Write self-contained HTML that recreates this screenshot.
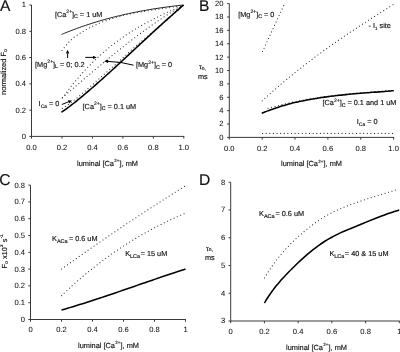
<!DOCTYPE html>
<html><head><meta charset="utf-8"><style>
html,body{margin:0;padding:0;background:#fff;}
svg{display:block;font-family:"Liberation Sans", sans-serif;will-change:transform;}
text{fill:#111;stroke:#111;stroke-width:0.15px;text-rendering:geometricPrecision;}
.tk{stroke-width:0.05px;}
</style></head><body>
<svg width="400" height="352" viewBox="0 0 400 352">
<rect width="400" height="352" fill="#fff"/>
<path d="M31.5,5.0V136.4H184.3" fill="none" stroke="#3a3a3a" stroke-width="1.0"/>
<path d="M31.5,136.4v2.2" stroke="#3a3a3a" stroke-width="1.0"/>
<path d="M61.96,136.4v2.2" stroke="#3a3a3a" stroke-width="1.0"/>
<path d="M92.42,136.4v2.2" stroke="#3a3a3a" stroke-width="1.0"/>
<path d="M122.88000000000001,136.4v2.2" stroke="#3a3a3a" stroke-width="1.0"/>
<path d="M153.34,136.4v2.2" stroke="#3a3a3a" stroke-width="1.0"/>
<path d="M183.8,136.4v2.2" stroke="#3a3a3a" stroke-width="1.0"/>
<path d="M31.5,136.4h-2.2" stroke="#3a3a3a" stroke-width="1.0"/>
<path d="M31.5,110.12h-2.2" stroke="#3a3a3a" stroke-width="1.0"/>
<path d="M31.5,83.84h-2.2" stroke="#3a3a3a" stroke-width="1.0"/>
<path d="M31.5,57.56h-2.2" stroke="#3a3a3a" stroke-width="1.0"/>
<path d="M31.5,31.28h-2.2" stroke="#3a3a3a" stroke-width="1.0"/>
<path d="M31.5,5.0h-2.2" stroke="#3a3a3a" stroke-width="1.0"/>
<text class="tk" x="31.5" y="149.8" text-anchor="middle" font-size="7.6">0.0</text>
<text class="tk" x="61.96" y="149.8" text-anchor="middle" font-size="7.6">0.2</text>
<text class="tk" x="92.42" y="149.8" text-anchor="middle" font-size="7.6">0.4</text>
<text class="tk" x="122.88000000000001" y="149.8" text-anchor="middle" font-size="7.6">0.6</text>
<text class="tk" x="153.34" y="149.8" text-anchor="middle" font-size="7.6">0.8</text>
<text class="tk" x="183.8" y="149.8" text-anchor="middle" font-size="7.6">1.0</text>
<text class="tk" x="26.0" y="138.80" text-anchor="end" font-size="7.6">0</text>
<text class="tk" x="26.0" y="112.52" text-anchor="end" font-size="7.6">0.2</text>
<text class="tk" x="26.0" y="86.24" text-anchor="end" font-size="7.6">0.4</text>
<text class="tk" x="26.0" y="59.96" text-anchor="end" font-size="7.6">0.6</text>
<text class="tk" x="26.0" y="33.68" text-anchor="end" font-size="7.6">0.8</text>
<text class="tk" x="26.0" y="7.40" text-anchor="end" font-size="7.6">1</text>
<text transform="translate(6.1,95) rotate(-90)" font-size="7.45">normalized F<tspan dy="1.1" font-size="5.2">o</tspan></text>
<text x="77" y="165.6" font-size="7.4">luminal [Ca<tspan dx="0.3" dy="-3.6" font-size="4.4">2+</tspan><tspan dx="0.2" dy="3.6">], mM</tspan></text>
<path d="M61.50,34.50C62.01,34.29 63.53,33.65 64.55,33.23C65.56,32.81 66.58,32.40 67.59,32.00C68.61,31.59 69.62,31.19 70.64,30.80C71.65,30.40 72.67,30.01 73.68,29.63C74.70,29.24 75.71,28.87 76.72,28.49C77.74,28.12 78.76,27.75 79.77,27.39C80.79,27.03 81.80,26.67 82.81,26.32C83.83,25.97 84.84,25.62 85.86,25.28C86.88,24.94 87.89,24.60 88.91,24.27C89.92,23.93 90.94,23.61 91.95,23.29C92.97,22.96 93.98,22.65 95.00,22.33C96.01,22.02 97.03,21.71 98.04,21.41C99.06,21.11 100.07,20.81 101.09,20.51C102.10,20.22 103.11,19.93 104.13,19.65C105.14,19.36 106.16,19.08 107.18,18.81C108.19,18.53 109.20,18.26 110.22,17.99C111.23,17.72 112.25,17.46 113.27,17.20C114.28,16.94 115.30,16.69 116.31,16.44C117.33,16.19 118.34,15.94 119.36,15.70C120.37,15.46 121.39,15.22 122.40,14.99C123.42,14.75 124.43,14.52 125.45,14.30C126.46,14.07 127.48,13.85 128.49,13.63C129.51,13.41 130.52,13.20 131.54,12.98C132.55,12.77 133.57,12.57 134.58,12.36C135.59,12.16 136.61,11.96 137.62,11.76C138.64,11.57 139.66,11.37 140.67,11.18C141.69,10.99 142.70,10.81 143.72,10.63C144.73,10.44 145.75,10.26 146.76,10.09C147.77,9.91 148.79,9.74 149.81,9.57C150.82,9.40 151.84,9.23 152.85,9.07C153.87,8.90 154.88,8.74 155.90,8.59C156.91,8.43 157.93,8.28 158.94,8.12C159.95,7.97 160.97,7.82 161.99,7.68C163.00,7.53 164.02,7.39 165.03,7.25C166.05,7.11 167.06,6.97 168.08,6.84C169.09,6.70 170.11,6.57 171.12,6.44C172.13,6.31 173.15,6.18 174.17,6.06C175.18,5.93 176.20,5.81 177.21,5.69C178.22,5.57 179.24,5.45 180.25,5.34C181.27,5.22 182.79,5.06 183.30,5.00" fill="none" stroke="#181818" stroke-width="0.95"/>
<path d="M62.00,50.51C62.51,49.85 64.02,47.82 65.03,46.56C66.04,45.30 67.05,44.05 68.06,42.93C69.08,41.81 70.09,40.78 71.10,39.84C72.11,38.91 73.12,38.10 74.13,37.31C75.14,36.53 76.15,35.83 77.16,35.14C78.17,34.44 79.18,33.79 80.19,33.14C81.21,32.50 82.22,31.88 83.23,31.28C84.24,30.68 85.25,30.10 86.26,29.53C87.27,28.97 88.28,28.43 89.29,27.91C90.30,27.38 91.31,26.87 92.33,26.38C93.34,25.89 94.35,25.42 95.36,24.96C96.37,24.50 97.38,24.05 98.39,23.62C99.40,23.19 100.41,22.78 101.42,22.38C102.43,21.97 103.44,21.58 104.46,21.21C105.47,20.83 106.48,20.47 107.49,20.12C108.50,19.76 109.51,19.43 110.52,19.10C111.53,18.77 112.54,18.45 113.55,18.15C114.56,17.84 115.57,17.54 116.59,17.26C117.60,16.97 118.61,16.70 119.62,16.43C120.63,16.16 121.64,15.91 122.65,15.66C123.66,15.41 124.67,15.17 125.68,14.93C126.69,14.70 127.70,14.48 128.72,14.26C129.73,14.04 130.74,13.83 131.75,13.63C132.76,13.42 133.77,13.22 134.78,13.03C135.79,12.84 136.80,12.65 137.81,12.47C138.82,12.29 139.83,12.11 140.84,11.94C141.86,11.76 142.87,11.60 143.88,11.43C144.89,11.27 145.90,11.10 146.91,10.95C147.92,10.79 148.93,10.63 149.94,10.48C150.95,10.32 151.96,10.17 152.98,10.02C153.99,9.87 155.00,9.72 156.01,9.57C157.02,9.42 158.03,9.27 159.04,9.13C160.05,8.98 161.06,8.83 162.07,8.68C163.08,8.53 164.09,8.38 165.11,8.23C166.12,8.08 167.13,7.93 168.14,7.77C169.15,7.62 170.16,7.46 171.17,7.30C172.18,7.14 173.19,6.98 174.20,6.81C175.21,6.65 176.22,6.48 177.24,6.30C178.25,6.13 179.26,5.95 180.27,5.76C181.28,5.58 182.79,5.29 183.30,5.20" fill="none" stroke="#2e2e2e" stroke-width="1.15" stroke-dasharray="0.01 3.6" stroke-linecap="round"/>
<path d="M62.40,97.96C62.90,97.27 64.42,95.19 65.42,93.84C66.43,92.49 67.44,91.16 68.44,89.85C69.45,88.54 70.46,87.26 71.47,85.99C72.47,84.73 73.48,83.49 74.49,82.26C75.50,81.04 76.50,79.84 77.51,78.66C78.52,77.47 79.53,76.31 80.53,75.17C81.54,74.03 82.55,72.91 83.56,71.80C84.56,70.70 85.57,69.62 86.58,68.55C87.59,67.48 88.59,66.44 89.60,65.41C90.61,64.38 91.62,63.37 92.62,62.37C93.63,61.38 94.64,60.40 95.65,59.44C96.66,58.48 97.66,57.54 98.67,56.61C99.68,55.68 100.68,54.77 101.69,53.88C102.70,52.98 103.71,52.10 104.72,51.24C105.72,50.38 106.73,49.53 107.74,48.69C108.74,47.86 109.75,47.04 110.76,46.24C111.77,45.43 112.77,44.64 113.78,43.86C114.79,43.09 115.80,42.32 116.81,41.57C117.81,40.82 118.82,40.09 119.83,39.36C120.83,38.63 121.84,37.92 122.85,37.22C123.86,36.52 124.86,35.83 125.87,35.16C126.88,34.48 127.89,33.81 128.90,33.16C129.90,32.50 130.91,31.86 131.92,31.23C132.92,30.59 133.93,29.97 134.94,29.36C135.95,28.74 136.96,28.14 137.96,27.55C138.97,26.95 139.98,26.37 140.98,25.79C141.99,25.21 143.00,24.65 144.01,24.09C145.01,23.53 146.02,22.98 147.03,22.43C148.04,21.89 149.05,21.35 150.05,20.83C151.06,20.30 152.07,19.78 153.07,19.26C154.08,18.75 155.09,18.24 156.10,17.73C157.10,17.23 158.11,16.74 159.12,16.24C160.13,15.75 161.13,15.27 162.14,14.79C163.15,14.31 164.16,13.83 165.16,13.36C166.17,12.89 167.18,12.42 168.19,11.96C169.19,11.50 170.20,11.04 171.21,10.58C172.22,10.12 173.22,9.67 174.23,9.22C175.24,8.77 176.25,8.33 177.25,7.88C178.26,7.44 179.27,6.99 180.28,6.55C181.28,6.11 182.80,5.45 183.30,5.23" fill="none" stroke="#2e2e2e" stroke-width="1.15" stroke-dasharray="0.01 3.6" stroke-linecap="round"/>
<path d="M62.40,97.63C62.90,97.20 64.42,95.91 65.42,95.05C66.43,94.18 67.44,93.32 68.44,92.45C69.45,91.59 70.46,90.73 71.47,89.86C72.47,89.00 73.48,88.14 74.49,87.27C75.50,86.41 76.50,85.55 77.51,84.68C78.52,83.82 79.53,82.96 80.53,82.10C81.54,81.24 82.55,80.38 83.56,79.52C84.56,78.66 85.57,77.80 86.58,76.94C87.59,76.08 88.59,75.23 89.60,74.37C90.61,73.52 91.62,72.66 92.62,71.81C93.63,70.96 94.64,70.11 95.65,69.26C96.66,68.41 97.66,67.57 98.67,66.72C99.68,65.88 100.68,65.03 101.69,64.19C102.70,63.35 103.71,62.52 104.72,61.68C105.72,60.84 106.73,60.01 107.74,59.18C108.74,58.35 109.75,57.52 110.76,56.70C111.77,55.87 112.77,55.05 113.78,54.23C114.79,53.41 115.80,52.60 116.81,51.78C117.81,50.97 118.82,50.16 119.83,49.36C120.83,48.55 121.84,47.75 122.85,46.95C123.86,46.15 124.86,45.36 125.87,44.57C126.88,43.78 127.89,42.99 128.90,42.21C129.90,41.42 130.91,40.65 131.92,39.87C132.92,39.10 133.93,38.33 134.94,37.56C135.95,36.80 136.96,36.04 137.96,35.28C138.97,34.53 139.98,33.78 140.98,33.03C141.99,32.28 143.00,31.54 144.01,30.81C145.01,30.07 146.02,29.34 147.03,28.62C148.04,27.89 149.05,27.17 150.05,26.46C151.06,25.75 152.07,25.04 153.07,24.34C154.08,23.63 155.09,22.94 156.10,22.25C157.10,21.56 158.11,20.87 159.12,20.20C160.13,19.52 161.13,18.85 162.14,18.18C163.15,17.52 164.16,16.86 165.16,16.21C166.17,15.56 167.18,14.91 168.19,14.27C169.19,13.63 170.20,13.00 171.21,12.38C172.22,11.76 173.22,11.14 174.23,10.53C175.24,9.92 176.25,9.32 177.25,8.73C178.26,8.13 179.27,7.55 180.28,6.97C181.28,6.39 182.80,5.54 183.30,5.25" fill="none" stroke="#2e2e2e" stroke-width="1.15" stroke-dasharray="0.01 3.6" stroke-linecap="round"/>
<path d="M62.40,108.47C62.90,108.15 64.42,107.20 65.42,106.53C66.43,105.86 67.44,105.16 68.44,104.44C69.45,103.72 70.46,102.98 71.47,102.22C72.47,101.46 73.48,100.68 74.49,99.88C75.50,99.09 76.50,98.27 77.51,97.45C78.52,96.63 79.53,95.79 80.53,94.95C81.54,94.10 82.55,93.24 83.56,92.38C84.56,91.52 85.57,90.65 86.58,89.78C87.59,88.91 88.59,88.03 89.60,87.15C90.61,86.27 91.62,85.38 92.62,84.50C93.63,83.61 94.64,82.72 95.65,81.83C96.66,80.94 97.66,80.05 98.67,79.16C99.68,78.27 100.68,77.38 101.69,76.49C102.70,75.60 103.71,74.71 104.72,73.83C105.72,72.94 106.73,72.06 107.74,71.17C108.74,70.29 109.75,69.41 110.76,68.53C111.77,67.65 112.77,66.78 113.78,65.90C114.79,65.01 115.80,64.13 116.81,63.24C117.81,62.35 118.82,61.46 119.83,60.55C120.83,59.65 121.84,58.74 122.85,57.82C123.86,56.91 124.86,55.99 125.87,55.07C126.88,54.15 127.89,53.23 128.90,52.31C129.90,51.40 130.91,50.49 131.92,49.59C132.92,48.69 133.93,47.79 134.94,46.91C135.95,46.03 136.96,45.17 137.96,44.31C138.97,43.44 139.98,42.59 140.98,41.74C141.99,40.89 143.00,40.04 144.01,39.19C145.01,38.35 146.02,37.51 147.03,36.67C148.04,35.83 149.05,34.99 150.05,34.15C151.06,33.31 152.07,32.48 153.07,31.64C154.08,30.80 155.09,29.96 156.10,29.12C157.10,28.28 158.11,27.44 159.12,26.60C160.13,25.75 161.13,24.91 162.14,24.06C163.15,23.21 164.16,22.36 165.16,21.50C166.17,20.64 167.18,19.78 168.19,18.91C169.19,18.04 170.20,17.16 171.21,16.28C172.22,15.40 173.22,14.51 174.23,13.61C175.24,12.71 176.25,11.81 177.25,10.89C178.26,9.98 179.27,9.06 180.28,8.12C181.28,7.19 182.80,5.76 183.30,5.29" fill="none" stroke="#2e2e2e" stroke-width="1.15" stroke-dasharray="0.01 3.6" stroke-linecap="round"/>
<path d="M61.50,112.30C62.01,111.94 63.53,110.87 64.55,110.13C65.57,109.40 66.58,108.66 67.60,107.90C68.62,107.14 69.63,106.38 70.65,105.60C71.67,104.82 72.68,104.04 73.70,103.24C74.72,102.44 75.73,101.64 76.75,100.82C77.77,100.01 78.78,99.18 79.80,98.35C80.82,97.52 81.83,96.68 82.85,95.84C83.87,94.99 84.88,94.14 85.90,93.28C86.92,92.42 87.93,91.55 88.95,90.68C89.97,89.81 90.98,88.93 92.00,88.04C93.02,87.16 94.03,86.27 95.05,85.38C96.07,84.49 97.08,83.59 98.10,82.69C99.12,81.79 100.13,80.89 101.15,79.98C102.17,79.07 103.18,78.16 104.20,77.25C105.22,76.34 106.23,75.42 107.25,74.50C108.27,73.58 109.28,72.66 110.30,71.73C111.32,70.81 112.33,69.88 113.35,68.95C114.37,68.02 115.38,67.09 116.40,66.16C117.42,65.22 118.43,64.29 119.45,63.35C120.47,62.41 121.48,61.48 122.50,60.54C123.52,59.60 124.53,58.65 125.55,57.71C126.57,56.77 127.58,55.83 128.60,54.88C129.62,53.94 130.63,53.00 131.65,52.05C132.67,51.11 133.68,50.16 134.70,49.22C135.72,48.27 136.73,47.33 137.75,46.38C138.77,45.44 139.78,44.50 140.80,43.55C141.82,42.61 142.83,41.66 143.85,40.72C144.87,39.78 145.88,38.84 146.90,37.90C147.92,36.96 148.93,36.02 149.95,35.08C150.97,34.15 151.98,33.21 153.00,32.28C154.02,31.34 155.03,30.41 156.05,29.48C157.07,28.55 158.08,27.62 159.10,26.69C160.12,25.77 161.13,24.85 162.15,23.93C163.17,23.01 164.18,22.09 165.20,21.17C166.22,20.26 167.23,19.35 168.25,18.44C169.27,17.53 170.28,16.63 171.30,15.72C172.32,14.82 173.33,13.93 174.35,13.03C175.37,12.14 176.38,11.25 177.40,10.36C178.42,9.48 179.43,8.60 180.45,7.72C181.47,6.84 182.99,5.54 183.50,5.10" fill="none" stroke="#000" stroke-width="1.55"/>
<text x="54.9" y="16.8" font-size="7.3">[Ca<tspan dx="0.1" dy="-3.8" font-size="5.0">2+</tspan><tspan dy="3.8">]</tspan><tspan dy="1.1" font-size="5.2">C</tspan><tspan dy="-1.1"> = 1 uM</tspan></text>
<text x="35.1" y="67.1" font-size="7.3">[Mg<tspan dx="0.1" dy="-3.8" font-size="5.0">2+</tspan><tspan dy="3.8">]</tspan><tspan dy="1.1" font-size="5.2">L</tspan><tspan dy="-1.1"> = 0; 0.2</tspan></text>
<text x="136" y="67.4" font-size="7.3">[Mg<tspan dx="0.1" dy="-3.8" font-size="5.0">2+</tspan><tspan dy="3.8">]</tspan><tspan dy="1.1" font-size="5.2">C</tspan><tspan dy="-1.1"> = 0</tspan></text>
<text x="82.6" y="108.7" font-size="7.3">[Ca<tspan dx="0.1" dy="-3.8" font-size="5.0">2+</tspan><tspan dy="3.8">]</tspan><tspan dy="1.1" font-size="5.2">C</tspan><tspan dy="-1.1"> = 0.1 uM</tspan></text>
<text x="38.6" y="106.4" font-size="7.3">I<tspan dy="1.9" font-size="5.0">Ca</tspan><tspan dx="1.9" dy="-1.9">= 0</tspan></text>
<path d="M67.6,58L67.60,53.60" stroke="#000" stroke-width="1"/><path d="M67.6,49.8L69.30,53.60L65.90,53.60Z" fill="#000"/>
<path d="M85.3,57.4L93.00,57.40" stroke="#000" stroke-width="1"/><path d="M96.8,57.4L93.00,59.10L93.00,55.70Z" fill="#000"/>
<path d="M133.5,65.2Q121,61.6 107.6,61.4" fill="none" stroke="#000" stroke-width="1"/>
<path d="M104.1,61.3L108.1,59.5L108.1,63.1Z" fill="#000"/>
<path d="M61.8,104.5L68.47,101.82" stroke="#000" stroke-width="1"/><path d="M72,100.4L69.11,103.39L67.84,100.24Z" fill="#000"/>
<path d="M229.3,3.6V137.4H394.1" fill="none" stroke="#3a3a3a" stroke-width="1.0"/>
<path d="M229.3,137.4v2.2" stroke="#3a3a3a" stroke-width="1.0"/>
<path d="M262.16,137.4v2.2" stroke="#3a3a3a" stroke-width="1.0"/>
<path d="M295.02,137.4v2.2" stroke="#3a3a3a" stroke-width="1.0"/>
<path d="M327.88,137.4v2.2" stroke="#3a3a3a" stroke-width="1.0"/>
<path d="M360.74,137.4v2.2" stroke="#3a3a3a" stroke-width="1.0"/>
<path d="M393.6,137.4v2.2" stroke="#3a3a3a" stroke-width="1.0"/>
<path d="M229.3,137.4h-2.2" stroke="#3a3a3a" stroke-width="1.0"/>
<path d="M229.3,124.02000000000001h-2.2" stroke="#3a3a3a" stroke-width="1.0"/>
<path d="M229.3,110.64h-2.2" stroke="#3a3a3a" stroke-width="1.0"/>
<path d="M229.3,97.26h-2.2" stroke="#3a3a3a" stroke-width="1.0"/>
<path d="M229.3,83.88h-2.2" stroke="#3a3a3a" stroke-width="1.0"/>
<path d="M229.3,70.5h-2.2" stroke="#3a3a3a" stroke-width="1.0"/>
<path d="M229.3,57.120000000000005h-2.2" stroke="#3a3a3a" stroke-width="1.0"/>
<path d="M229.3,43.739999999999995h-2.2" stroke="#3a3a3a" stroke-width="1.0"/>
<path d="M229.3,30.36h-2.2" stroke="#3a3a3a" stroke-width="1.0"/>
<path d="M229.3,16.980000000000004h-2.2" stroke="#3a3a3a" stroke-width="1.0"/>
<path d="M229.3,3.5999999999999943h-2.2" stroke="#3a3a3a" stroke-width="1.0"/>
<text class="tk" x="229.3" y="151.2" text-anchor="middle" font-size="7.6">0.0</text>
<text class="tk" x="262.16" y="151.2" text-anchor="middle" font-size="7.6">0.2</text>
<text class="tk" x="295.02" y="151.2" text-anchor="middle" font-size="7.6">0.4</text>
<text class="tk" x="327.88" y="151.2" text-anchor="middle" font-size="7.6">0.6</text>
<text class="tk" x="360.74" y="151.2" text-anchor="middle" font-size="7.6">0.8</text>
<text class="tk" x="393.6" y="151.2" text-anchor="middle" font-size="7.6">1.0</text>
<text class="tk" x="223.4" y="139.80" text-anchor="end" font-size="7.6">0</text>
<text class="tk" x="223.4" y="126.42" text-anchor="end" font-size="7.6">2</text>
<text class="tk" x="223.4" y="113.04" text-anchor="end" font-size="7.6">4</text>
<text class="tk" x="223.4" y="99.66" text-anchor="end" font-size="7.6">6</text>
<text class="tk" x="223.4" y="86.28" text-anchor="end" font-size="7.6">8</text>
<text class="tk" x="223.4" y="72.90" text-anchor="end" font-size="7.6">10</text>
<text class="tk" x="223.4" y="59.52" text-anchor="end" font-size="7.6">12</text>
<text class="tk" x="223.4" y="46.14" text-anchor="end" font-size="7.6">14</text>
<text class="tk" x="223.4" y="32.76" text-anchor="end" font-size="7.6">16</text>
<text class="tk" x="223.4" y="19.38" text-anchor="end" font-size="7.6">18</text>
<text class="tk" x="223.4" y="6.00" text-anchor="end" font-size="7.6">20</text>
<text x="199.0" y="69.3" font-size="6.8">τ<tspan dy="0.7" font-size="5">o,</tspan></text>
<text x="198" y="78.7" font-size="7.3">ms</text>
<text x="281" y="166.4" font-size="7.4">luminal [Ca<tspan dx="0.3" dy="-3.6" font-size="4.4">2+</tspan><tspan dx="0.2" dy="3.6">], mM</tspan></text>
<path d="M262.50,51.60C262.78,50.99 263.62,49.17 264.18,47.96C264.74,46.75 265.29,45.54 265.85,44.32C266.41,43.11 266.97,41.90 267.53,40.68C268.09,39.47 268.65,38.26 269.21,37.05C269.77,35.83 270.33,34.62 270.88,33.41C271.44,32.19 272.00,30.98 272.56,29.77C273.12,28.56 273.68,27.34 274.24,26.13C274.80,24.92 275.36,23.71 275.92,22.49C276.47,21.28 277.03,20.07 277.59,18.85C278.15,17.64 278.71,16.43 279.27,15.22C279.83,14.00 280.39,12.79 280.95,11.58C281.51,10.36 282.06,9.15 282.62,7.94C283.18,6.73 284.02,4.91 284.30,4.30" fill="none" stroke="#2e2e2e" stroke-width="1.15" stroke-dasharray="0.01 3.6" stroke-linecap="round"/>
<path d="M262.20,100.86C262.71,100.39 264.24,98.99 265.26,98.06C266.27,97.14 267.29,96.22 268.31,95.30C269.33,94.39 270.35,93.48 271.37,92.58C272.39,91.67 273.40,90.78 274.42,89.89C275.44,89.00 276.46,88.11 277.48,87.23C278.50,86.35 279.52,85.48 280.53,84.61C281.55,83.74 282.57,82.88 283.59,82.02C284.61,81.17 285.63,80.32 286.65,79.47C287.67,78.62 288.68,77.78 289.70,76.94C290.72,76.11 291.74,75.28 292.76,74.45C293.78,73.63 294.80,72.80 295.81,71.99C296.83,71.17 297.85,70.36 298.87,69.55C299.89,68.75 300.91,67.95 301.93,67.15C302.94,66.35 303.96,65.56 304.98,64.77C306.00,63.98 307.02,63.20 308.04,62.42C309.06,61.64 310.07,60.87 311.09,60.10C312.11,59.32 313.13,58.56 314.15,57.80C315.17,57.03 316.19,56.28 317.20,55.52C318.22,54.77 319.24,54.02 320.26,53.27C321.28,52.52 322.30,51.78 323.32,51.04C324.33,50.30 325.35,49.57 326.37,48.84C327.39,48.11 328.41,47.38 329.43,46.66C330.45,45.93 331.47,45.21 332.48,44.49C333.50,43.77 334.52,43.06 335.54,42.35C336.56,41.64 337.58,40.93 338.60,40.23C339.61,39.52 340.63,38.82 341.65,38.12C342.67,37.42 343.69,36.73 344.71,36.04C345.73,35.34 346.74,34.65 347.76,33.97C348.78,33.28 349.80,32.59 350.82,31.91C351.84,31.23 352.86,30.55 353.87,29.87C354.89,29.20 355.91,28.52 356.93,27.85C357.95,27.18 358.97,26.51 359.99,25.84C361.00,25.17 362.02,24.51 363.04,23.85C364.06,23.18 365.08,22.52 366.10,21.86C367.12,21.20 368.13,20.55 369.15,19.89C370.17,19.23 371.19,18.58 372.21,17.93C373.23,17.28 374.25,16.63 375.27,15.98C376.28,15.33 377.30,14.68 378.32,14.04C379.34,13.39 380.36,12.75 381.38,12.10C382.40,11.46 383.41,10.82 384.43,10.18C385.45,9.54 386.47,8.90 387.49,8.26C388.51,7.62 389.53,6.99 390.54,6.35C391.56,5.71 393.09,4.76 393.60,4.44" fill="none" stroke="#2e2e2e" stroke-width="1.15" stroke-dasharray="0.01 3.6" stroke-linecap="round"/>
<path d="M268.00,108.30C269.61,107.86 274.45,106.49 277.67,105.66C280.90,104.83 284.12,104.05 287.35,103.32C290.57,102.59 293.79,101.90 297.02,101.25C300.24,100.61 303.47,100.01 306.69,99.44C309.92,98.87 313.14,98.35 316.37,97.85C319.59,97.35 322.81,96.90 326.04,96.46C329.26,96.03 332.49,95.63 335.71,95.25C338.94,94.88 342.16,94.53 345.38,94.20C348.61,93.87 351.83,93.56 355.06,93.27C358.28,92.98 361.51,92.71 364.73,92.46C367.96,92.20 371.18,91.96 374.40,91.72C377.63,91.48 380.85,91.26 384.08,91.04C387.30,90.82 392.14,90.51 393.75,90.40" fill="none" stroke="#2e2e2e" stroke-width="1.15" stroke-dasharray="0.01 3.6" stroke-linecap="round"/>
<path d="M261.75,113.28C262.25,113.07 263.75,112.44 264.75,112.03C265.75,111.63 266.75,111.23 267.75,110.85C268.75,110.46 269.75,110.09 270.75,109.72C271.75,109.36 272.75,109.00 273.75,108.66C274.75,108.31 275.75,107.97 276.75,107.65C277.75,107.32 278.75,107.00 279.75,106.69C280.75,106.38 281.75,106.07 282.75,105.78C283.75,105.48 284.75,105.20 285.75,104.92C286.75,104.64 287.75,104.37 288.75,104.11C289.75,103.84 290.75,103.58 291.75,103.33C292.75,103.08 293.75,102.84 294.75,102.61C295.75,102.37 296.75,102.14 297.75,101.92C298.75,101.69 299.75,101.47 300.75,101.26C301.75,101.05 302.75,100.84 303.75,100.64C304.75,100.44 305.75,100.25 306.75,100.06C307.75,99.87 308.75,99.68 309.75,99.50C310.75,99.32 311.75,99.14 312.75,98.97C313.75,98.80 314.75,98.63 315.75,98.47C316.75,98.30 317.75,98.15 318.75,97.99C319.75,97.84 320.75,97.69 321.75,97.54C322.75,97.39 323.75,97.25 324.75,97.11C325.75,96.97 326.75,96.83 327.75,96.70C328.75,96.57 329.75,96.44 330.75,96.31C331.75,96.19 332.75,96.07 333.75,95.95C334.75,95.83 335.75,95.71 336.75,95.60C337.75,95.48 338.75,95.37 339.75,95.26C340.75,95.16 341.75,95.05 342.75,94.95C343.75,94.84 344.75,94.74 345.75,94.64C346.75,94.54 347.75,94.45 348.75,94.35C349.75,94.26 350.75,94.17 351.75,94.07C352.75,93.98 353.75,93.89 354.75,93.81C355.75,93.72 356.75,93.63 357.75,93.55C358.75,93.46 359.75,93.38 360.75,93.30C361.75,93.21 362.75,93.13 363.75,93.05C364.75,92.97 365.75,92.89 366.75,92.81C367.75,92.73 368.75,92.66 369.75,92.58C370.75,92.50 371.75,92.42 372.75,92.35C373.75,92.27 374.75,92.19 375.75,92.11C376.75,92.04 377.75,91.96 378.75,91.88C379.75,91.81 380.75,91.73 381.75,91.65C382.75,91.58 383.75,91.50 384.75,91.42C385.75,91.34 386.75,91.26 387.75,91.18C388.75,91.10 389.75,91.02 390.75,90.94C391.75,90.86 393.25,90.74 393.75,90.69" fill="none" stroke="#000" stroke-width="1.55"/>
<path d="M262.6,133.4H393.6" stroke="#2e2e2e" stroke-width="1.15" stroke-dasharray="0.01 3.6" stroke-linecap="round"/>
<text x="238.2" y="17.3" font-size="7.3">[Mg<tspan dx="0.1" dy="-3.8" font-size="5.0">2+</tspan><tspan dy="3.8">]</tspan><tspan dy="1.1" font-size="5.2">C</tspan><tspan dy="-1.1"> = 0</tspan></text>
<text x="368.5" y="27.6" font-size="7.3">- I<tspan dy="1.9" font-size="4.5">1</tspan><tspan dx="0" dy="-1.9"> site</tspan></text>
<text x="322.5" y="105.4" font-size="7.3">[Ca<tspan dx="0.1" dy="-3.8" font-size="5.0">2+</tspan><tspan dy="3.8">]</tspan><tspan dy="1.1" font-size="5.2">C</tspan><tspan dy="-1.1"> = 0.1 and 1 uM</tspan></text>
<text x="356.8" y="124.2" font-size="7.3">I<tspan dy="1.9" font-size="5.0">Ca</tspan><tspan dx="1.9" dy="-1.9">= 0</tspan></text>
<path d="M30.5,185.1V319.5H186.0" fill="none" stroke="#3a3a3a" stroke-width="1.0"/>
<path d="M30.5,319.5v2.2" stroke="#3a3a3a" stroke-width="1.0"/>
<path d="M61.5,319.5v2.2" stroke="#3a3a3a" stroke-width="1.0"/>
<path d="M92.5,319.5v2.2" stroke="#3a3a3a" stroke-width="1.0"/>
<path d="M123.5,319.5v2.2" stroke="#3a3a3a" stroke-width="1.0"/>
<path d="M154.5,319.5v2.2" stroke="#3a3a3a" stroke-width="1.0"/>
<path d="M185.5,319.5v2.2" stroke="#3a3a3a" stroke-width="1.0"/>
<path d="M30.5,319.5h-2.2" stroke="#3a3a3a" stroke-width="1.0"/>
<path d="M30.5,302.7h-2.2" stroke="#3a3a3a" stroke-width="1.0"/>
<path d="M30.5,285.9h-2.2" stroke="#3a3a3a" stroke-width="1.0"/>
<path d="M30.5,269.1h-2.2" stroke="#3a3a3a" stroke-width="1.0"/>
<path d="M30.5,252.3h-2.2" stroke="#3a3a3a" stroke-width="1.0"/>
<path d="M30.5,235.5h-2.2" stroke="#3a3a3a" stroke-width="1.0"/>
<path d="M30.5,218.7h-2.2" stroke="#3a3a3a" stroke-width="1.0"/>
<path d="M30.5,201.89999999999998h-2.2" stroke="#3a3a3a" stroke-width="1.0"/>
<path d="M30.5,185.1h-2.2" stroke="#3a3a3a" stroke-width="1.0"/>
<text class="tk" x="30.5" y="332.4" text-anchor="middle" font-size="7.6">0</text>
<text class="tk" x="61.5" y="332.4" text-anchor="middle" font-size="7.6">0.2</text>
<text class="tk" x="92.5" y="332.4" text-anchor="middle" font-size="7.6">0.4</text>
<text class="tk" x="123.5" y="332.4" text-anchor="middle" font-size="7.6">0.6</text>
<text class="tk" x="154.5" y="332.4" text-anchor="middle" font-size="7.6">0.8</text>
<text class="tk" x="185.5" y="332.4" text-anchor="middle" font-size="7.6">1</text>
<text class="tk" x="25.0" y="321.90" text-anchor="end" font-size="7.6">0</text>
<text class="tk" x="25.0" y="305.10" text-anchor="end" font-size="7.6">0.1</text>
<text class="tk" x="25.0" y="288.30" text-anchor="end" font-size="7.6">0.2</text>
<text class="tk" x="25.0" y="271.50" text-anchor="end" font-size="7.6">0.3</text>
<text class="tk" x="25.0" y="254.70" text-anchor="end" font-size="7.6">0.4</text>
<text class="tk" x="25.0" y="237.90" text-anchor="end" font-size="7.6">0.5</text>
<text class="tk" x="25.0" y="221.10" text-anchor="end" font-size="7.6">0.6</text>
<text class="tk" x="25.0" y="204.30" text-anchor="end" font-size="7.6">0.7</text>
<text class="tk" x="25.0" y="187.50" text-anchor="end" font-size="7.6">0.8</text>
<text transform="translate(7.0,268.4) rotate(-90)" font-size="7.3">F<tspan dy="1.1" font-size="5.2">o</tspan><tspan dy="-1.1"> x10</tspan><tspan dx="0.1" dy="-3.8" font-size="5.0">3</tspan><tspan dy="3.8"> s</tspan><tspan dx="0.1" dy="-3.8" font-size="5.0">-1</tspan></text>
<text x="78" y="348" font-size="7.4">luminal [Ca<tspan dx="0.3" dy="-3.6" font-size="4.4">2+</tspan><tspan dx="0.2" dy="3.6">], mM</tspan></text>
<path d="M61.60,269.02C63.18,267.89 67.94,264.48 71.11,262.23C74.28,259.98 77.45,257.74 80.62,255.51C83.78,253.28 86.95,251.06 90.12,248.85C93.29,246.64 96.46,244.45 99.63,242.26C102.80,240.08 105.97,237.90 109.14,235.74C112.31,233.58 115.48,231.42 118.65,229.28C121.82,227.14 124.98,225.01 128.15,222.90C131.32,220.78 134.49,218.67 137.66,216.58C140.83,214.48 144.00,212.40 147.17,210.33C150.34,208.25 153.51,206.19 156.68,204.14C159.85,202.09 163.02,200.05 166.18,198.02C169.35,195.99 172.52,193.98 175.69,191.97C178.86,189.97 183.62,186.99 185.20,185.99" fill="none" stroke="#2e2e2e" stroke-width="1.15" stroke-dasharray="0.01 3.6" stroke-linecap="round"/>
<path d="M61.60,295.60C63.18,294.12 67.91,289.62 71.07,286.75C74.23,283.88 77.38,281.09 80.54,278.38C83.69,275.67 86.85,273.04 90.01,270.48C93.16,267.92 96.32,265.44 99.48,263.03C102.63,260.62 105.79,258.28 108.95,256.02C112.10,253.75 115.26,251.55 118.42,249.42C121.57,247.28 124.73,245.22 127.88,243.22C131.04,241.22 134.20,239.28 137.35,237.40C140.51,235.53 143.67,233.72 146.82,231.96C149.98,230.20 153.14,228.50 156.29,226.86C159.45,225.22 162.61,223.63 165.76,222.10C168.92,220.56 172.07,219.08 175.23,217.65C178.39,216.22 183.12,214.20 184.70,213.51" fill="none" stroke="#2e2e2e" stroke-width="1.15" stroke-dasharray="0.01 3.6" stroke-linecap="round"/>
<path d="M61.50,310.00C62.00,309.86 63.52,309.43 64.52,309.14C65.53,308.85 66.54,308.55 67.55,308.26C68.56,307.96 69.57,307.67 70.57,307.37C71.58,307.07 72.59,306.76 73.60,306.46C74.61,306.15 75.61,305.85 76.62,305.54C77.63,305.23 78.64,304.92 79.65,304.60C80.65,304.29 81.66,303.98 82.67,303.66C83.68,303.34 84.69,303.02 85.70,302.70C86.70,302.38 87.71,302.06 88.72,301.74C89.73,301.41 90.74,301.09 91.74,300.76C92.75,300.44 93.76,300.11 94.77,299.78C95.78,299.45 96.78,299.12 97.79,298.78C98.80,298.45 99.81,298.12 100.82,297.78C101.83,297.45 102.83,297.11 103.84,296.77C104.85,296.43 105.86,296.10 106.87,295.76C107.87,295.42 108.88,295.08 109.89,294.73C110.90,294.39 111.91,294.05 112.91,293.71C113.92,293.36 114.93,293.02 115.94,292.68C116.95,292.33 117.96,291.99 118.96,291.64C119.97,291.29 120.98,290.95 121.99,290.60C123.00,290.25 124.00,289.91 125.01,289.56C126.02,289.21 127.03,288.86 128.04,288.51C129.04,288.16 130.05,287.82 131.06,287.47C132.07,287.12 133.08,286.77 134.09,286.42C135.09,286.07 136.10,285.72 137.11,285.37C138.12,285.02 139.13,284.68 140.13,284.33C141.14,283.98 142.15,283.63 143.16,283.28C144.17,282.93 145.17,282.58 146.18,282.24C147.19,281.89 148.20,281.54 149.21,281.19C150.22,280.85 151.22,280.50 152.23,280.16C153.24,279.81 154.25,279.46 155.26,279.12C156.26,278.78 157.27,278.43 158.28,278.09C159.29,277.75 160.30,277.40 161.30,277.06C162.31,276.72 163.32,276.38 164.33,276.04C165.34,275.70 166.35,275.36 167.35,275.03C168.36,274.69 169.37,274.35 170.38,274.02C171.39,273.68 172.39,273.35 173.40,273.02C174.41,272.69 175.42,272.35 176.43,272.03C177.43,271.70 178.44,271.37 179.45,271.04C180.46,270.72 181.47,270.39 182.48,270.07C183.48,269.74 185.00,269.26 185.50,269.10" fill="none" stroke="#000" stroke-width="1.55"/>
<text x="52" y="241.2" font-size="7.3">K<tspan dy="1.9" font-size="5.5">ACa</tspan><tspan dx="1.3" dy="-1.9">= 0.6 uM</tspan></text>
<text x="125.2" y="255.7" font-size="7.3">K<tspan dy="1.9" font-size="5.5">LCa</tspan><tspan dx="0.5" dy="-1.9">= 15 uM</tspan></text>
<path d="M230.7,182.25V321H399.8" fill="none" stroke="#3a3a3a" stroke-width="1.0"/>
<path d="M230.7,321v2.2" stroke="#3a3a3a" stroke-width="1.0"/>
<path d="M264.42,321v2.2" stroke="#3a3a3a" stroke-width="1.0"/>
<path d="M298.14,321v2.2" stroke="#3a3a3a" stroke-width="1.0"/>
<path d="M331.86,321v2.2" stroke="#3a3a3a" stroke-width="1.0"/>
<path d="M365.58000000000004,321v2.2" stroke="#3a3a3a" stroke-width="1.0"/>
<path d="M399.3,321v2.2" stroke="#3a3a3a" stroke-width="1.0"/>
<path d="M230.7,321.0h-2.2" stroke="#3a3a3a" stroke-width="1.0"/>
<path d="M230.7,293.25h-2.2" stroke="#3a3a3a" stroke-width="1.0"/>
<path d="M230.7,265.5h-2.2" stroke="#3a3a3a" stroke-width="1.0"/>
<path d="M230.7,237.75h-2.2" stroke="#3a3a3a" stroke-width="1.0"/>
<path d="M230.7,210.0h-2.2" stroke="#3a3a3a" stroke-width="1.0"/>
<path d="M230.7,182.25h-2.2" stroke="#3a3a3a" stroke-width="1.0"/>
<text class="tk" x="230.7" y="334.4" text-anchor="middle" font-size="7.6">0</text>
<text class="tk" x="264.42" y="334.4" text-anchor="middle" font-size="7.6">0.2</text>
<text class="tk" x="298.14" y="334.4" text-anchor="middle" font-size="7.6">0.4</text>
<text class="tk" x="331.86" y="334.4" text-anchor="middle" font-size="7.6">0.6</text>
<text class="tk" x="365.58000000000004" y="334.4" text-anchor="middle" font-size="7.6">0.8</text>
<text class="tk" x="399.3" y="334.4" text-anchor="middle" font-size="7.6">1</text>
<text class="tk" x="225.2" y="323.40" text-anchor="end" font-size="7.6">3</text>
<text class="tk" x="225.2" y="295.65" text-anchor="end" font-size="7.6">4</text>
<text class="tk" x="225.2" y="267.90" text-anchor="end" font-size="7.6">5</text>
<text class="tk" x="225.2" y="240.15" text-anchor="end" font-size="7.6">6</text>
<text class="tk" x="225.2" y="212.40" text-anchor="end" font-size="7.6">7</text>
<text class="tk" x="225.2" y="184.65" text-anchor="end" font-size="7.6">8</text>
<text x="206.1" y="250.5" font-size="6.8">τ<tspan dy="0.7" font-size="5">o,</tspan></text>
<text x="205" y="260.2" font-size="7.3">ms</text>
<text x="286" y="350" font-size="7.4">luminal [Ca<tspan dx="0.3" dy="-3.6" font-size="4.4">2+</tspan><tspan dx="0.2" dy="3.6">], mM</tspan></text>
<path d="M264.50,277.98C265.01,277.15 266.52,274.60 267.53,272.99C268.55,271.38 269.56,269.84 270.57,268.34C271.58,266.84 272.59,265.40 273.60,263.99C274.61,262.59 275.62,261.24 276.64,259.93C277.65,258.62 278.66,257.35 279.67,256.11C280.68,254.88 281.69,253.68 282.70,252.51C283.72,251.35 284.73,250.21 285.74,249.10C286.75,247.99 287.76,246.91 288.77,245.86C289.78,244.80 290.80,243.77 291.81,242.76C292.82,241.76 293.83,240.77 294.84,239.81C295.85,238.85 296.86,237.91 297.88,236.99C298.89,236.07 299.90,235.18 300.91,234.29C301.92,233.41 302.93,232.55 303.94,231.71C304.95,230.86 305.97,230.03 306.98,229.22C307.99,228.40 309.00,227.60 310.01,226.82C311.02,226.03 312.03,225.26 313.05,224.51C314.06,223.75 315.07,223.01 316.08,222.29C317.09,221.57 318.10,220.87 319.11,220.19C320.12,219.51 321.14,218.85 322.15,218.21C323.16,217.57 324.17,216.95 325.18,216.35C326.19,215.75 327.20,215.18 328.22,214.63C329.23,214.07 330.24,213.54 331.25,213.02C332.26,212.50 333.27,212.00 334.28,211.51C335.30,211.02 336.31,210.55 337.32,210.09C338.33,209.63 339.34,209.18 340.35,208.74C341.36,208.30 342.38,207.87 343.39,207.45C344.40,207.03 345.41,206.63 346.42,206.22C347.43,205.82 348.44,205.43 349.45,205.05C350.47,204.66 351.48,204.28 352.49,203.91C353.50,203.54 354.51,203.18 355.52,202.82C356.53,202.47 357.55,202.12 358.56,201.77C359.57,201.42 360.58,201.08 361.59,200.75C362.60,200.41 363.61,200.08 364.62,199.75C365.64,199.42 366.65,199.10 367.66,198.78C368.67,198.46 369.68,198.14 370.69,197.82C371.70,197.51 372.72,197.19 373.73,196.88C374.74,196.57 375.75,196.25 376.76,195.94C377.77,195.63 378.78,195.32 379.80,195.01C380.81,194.70 381.82,194.39 382.83,194.07C383.84,193.76 384.85,193.44 385.86,193.13C386.88,192.81 387.89,192.49 388.90,192.17C389.91,191.85 390.92,191.53 391.93,191.20C392.94,190.87 393.95,190.54 394.97,190.20C395.98,189.87 397.49,189.35 398.00,189.18" fill="none" stroke="#2e2e2e" stroke-width="1.15" stroke-dasharray="0.01 3.6" stroke-linecap="round"/>
<path d="M264.40,303.01C264.91,302.18 266.44,299.62 267.46,298.03C268.48,296.43 269.51,294.92 270.53,293.46C271.55,291.99 272.57,290.60 273.59,289.25C274.61,287.90 275.63,286.61 276.65,285.35C277.68,284.10 278.70,282.90 279.72,281.72C280.74,280.55 281.76,279.42 282.78,278.30C283.80,277.18 284.82,276.09 285.85,275.01C286.87,273.94 287.89,272.88 288.91,271.83C289.93,270.78 290.95,269.75 291.97,268.73C292.99,267.71 294.02,266.70 295.04,265.70C296.06,264.70 297.08,263.72 298.10,262.75C299.12,261.78 300.14,260.83 301.16,259.89C302.18,258.95 303.21,258.02 304.23,257.11C305.25,256.20 306.27,255.31 307.29,254.43C308.31,253.56 309.33,252.70 310.35,251.86C311.38,251.02 312.40,250.20 313.42,249.40C314.44,248.59 315.46,247.81 316.48,247.05C317.50,246.29 318.52,245.54 319.55,244.82C320.57,244.10 321.59,243.40 322.61,242.73C323.63,242.05 324.65,241.40 325.67,240.76C326.69,240.13 327.72,239.52 328.74,238.93C329.76,238.34 330.78,237.78 331.80,237.22C332.82,236.67 333.84,236.14 334.86,235.62C335.88,235.10 336.91,234.60 337.93,234.11C338.95,233.61 339.97,233.14 340.99,232.67C342.01,232.20 343.03,231.75 344.05,231.30C345.08,230.85 346.10,230.41 347.12,229.98C348.14,229.54 349.16,229.12 350.18,228.69C351.20,228.27 352.22,227.85 353.25,227.43C354.27,227.01 355.29,226.59 356.31,226.18C357.33,225.76 358.35,225.34 359.37,224.92C360.39,224.50 361.42,224.08 362.44,223.66C363.46,223.24 364.48,222.82 365.50,222.40C366.52,221.98 367.54,221.57 368.56,221.15C369.58,220.74 370.61,220.32 371.63,219.91C372.65,219.50 373.67,219.09 374.69,218.69C375.71,218.29 376.73,217.88 377.75,217.49C378.78,217.09 379.80,216.70 380.82,216.32C381.84,215.93 382.86,215.55 383.88,215.17C384.90,214.80 385.92,214.43 386.95,214.07C387.97,213.70 388.99,213.35 390.01,213.00C391.03,212.65 392.05,212.31 393.07,211.98C394.09,211.65 395.12,211.33 396.14,211.01C397.16,210.70 398.69,210.25 399.20,210.10" fill="none" stroke="#000" stroke-width="1.55"/>
<text x="259" y="216.2" font-size="7.3">K<tspan dy="1.9" font-size="5.5">ACa</tspan><tspan dx="0.9" dy="-1.9">= 0.6 uM</tspan></text>
<text x="329.4" y="256.2" font-size="7.3">K<tspan dy="1.9" font-size="5.5">LCa</tspan><tspan dx="0.5" dy="-1.9">= 40 &amp; 15 uM</tspan></text>
<text x="0" y="10.6" font-size="15.6">A</text>
<text x="198.9" y="10.9" font-size="15.6">B</text>
<text x="-0.8" y="184.8" font-size="15.6">C</text>
<text x="198.9" y="184.7" font-size="15.6">D</text>
</svg></body></html>
